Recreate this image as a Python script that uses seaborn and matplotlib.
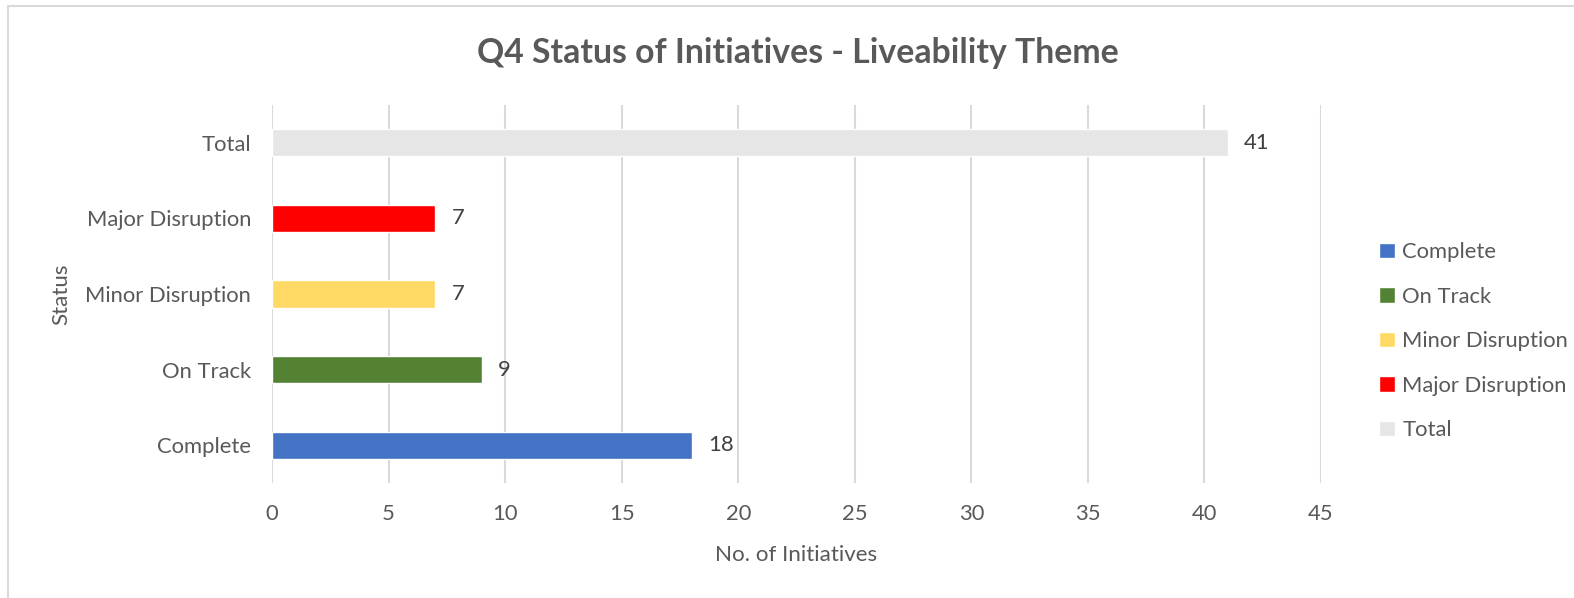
import matplotlib
matplotlib.use("Agg")
import matplotlib.pyplot as plt
import seaborn as sns
import pandas as pd
from matplotlib.patches import Rectangle

# data
statuses = ["Total", "Major Disruption", "Minor Disruption", "On Track", "Complete"]
counts = [41, 7, 7, 9, 18]
legend_order = ["Complete", "On Track", "Minor Disruption", "Major Disruption", "Total"]
colours = {"Complete": "#4472C4", "On Track": "#548235", "Minor Disruption": "#FFD966",
           "Major Disruption": "#FF0000", "Total": "#E6E6E6"}
x_ticks = [0, 5, 10, 15, 20, 25, 30, 35, 40, 45]

df = pd.DataFrame({"Status": statuses, "Count": counts})

sns.set_style("white")
plt.rcParams["font.family"] = ["Lato", "DejaVu Sans"]
txt = "#595959"
fs = 15.8

fig = plt.figure(figsize=(15.74, 5.98), dpi=100)
ax = fig.add_axes([272 / 1574, 1 - 483 / 598, (1321 - 272) / 1574, (483 - 105) / 598])

sns.barplot(data=df, y="Status", x="Count", hue="Status", order=statuses,
            hue_order=legend_order, palette=colours, width=0.36, dodge=False,
            saturation=1, legend=True, ax=ax)

ax.set_xlim(0, 45)
ax.set_xticks(x_ticks)
ax.grid(axis="x", color="#D9D9D9", linewidth=1.5)
ax.set_axisbelow(True)
for s in ax.spines.values():
    s.set_visible(False)
ax.tick_params(axis="both", length=0, labelsize=fs, labelcolor=txt)
ax.tick_params(axis="y", pad=15)
ax.tick_params(axis="x", pad=15)
ax.set_xlabel("No. of Initiatives", fontsize=fs + 0.3, color=txt, va="center")
ax.set_ylabel("Status", fontsize=fs + 0.3, color=txt, va="center")
ax.xaxis.set_label_coords(0.5, -0.19)
ax.yaxis.set_label_coords(-0.201, 0.5)

# value labels
for st, c in zip(statuses, counts):
    ax.text(c + 0.7, statuses.index(st), str(c), va="center", ha="left",
            fontsize=fs, color="#404040")

handles, labels = ax.get_legend_handles_labels()
ax.legend(handles, labels, loc="center left", bbox_to_anchor=(1.045, 0.375),
          frameon=False, fontsize=fs, labelcolor=txt, handlelength=0.7,
          handleheight=0.7, handletextpad=0.35, labelspacing=1.12,
          borderpad=0)

fig.text(798 / 1574, 1 - 53 / 598, "Q4 Status of Initiatives - Liveability Theme",
         ha="center", va="center", fontsize=24.3, fontweight="bold", color=txt)

fig.patches.append(Rectangle((8 / 1574, -0.1), 1.2, (1 - 6 / 598) + 0.1,
                             transform=fig.transFigure, fill=False,
                             edgecolor="#D9D9D9", linewidth=1.5))

fig.savefig("out.png", dpi=100)
